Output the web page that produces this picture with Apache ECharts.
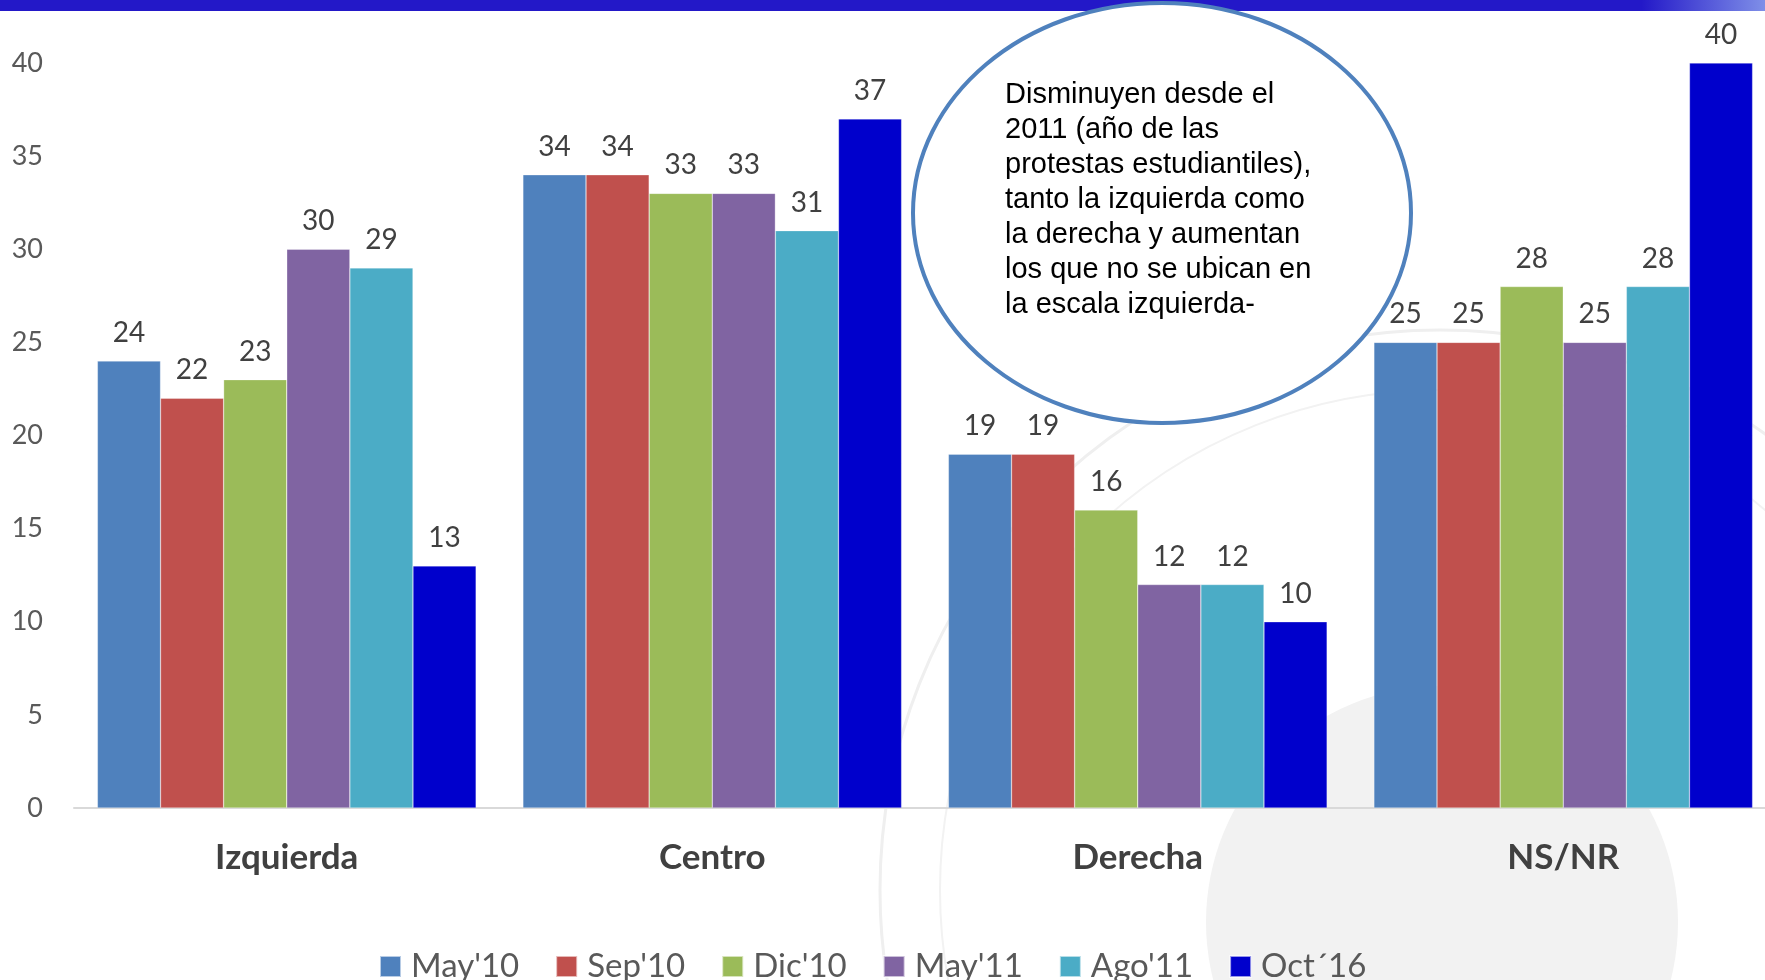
<!DOCTYPE html>
<html>
<head>
<meta charset="utf-8">
<script src="https://cdn.jsdelivr.net/npm/echarts@6/dist/echarts.min.js"></script>
<style>
  html, body { margin: 0; padding: 0; background: #fff; }
  #chart { width: 1765px; height: 980px; }
</style>
</head>
<body>
<div id="chart"></div>
<script>
// categorías y series
const categories = ["Izquierda", "Centro", "Derecha", "NS/NR"];
const seriesNames = ["May'10", "Sep'10", "Dic'10", "May'11", "Ago'11", "Oct´16"];
const may10 = [24, 34, 19, 25];
const sep10 = [22, 34, 19, 25];
const dic10 = [23, 33, 16, 28];
const may11 = [30, 33, 12, 25];
const ago11 = [29, 31, 12, 28];
const oct16 = [13, 37, 10, 40];
const colors = ["#4f81bd", "#c0504d", "#9bbb59", "#8064a2", "#4bacc6", "#0000cc"];
const noteLines = [
  "Disminuyen desde el",
  "2011 (año de las",
  "protestas estudiantiles),",
  "tanto la izquierda como",
  "la derecha y aumentan",
  "los que no se ubican en",
  "la escala izquierda-"
];

const values = [may10, sep10, dic10, may11, ago11, oct16];
const chart = echarts.init(document.getElementById("chart"));

const series = seriesNames.map((name, i) => ({
  name: name,
  type: "bar",
  data: values[i],
  barGap: "0%",
  barCategoryGap: "11%",
  itemStyle: { color: colors[i], borderColor: "rgba(255,255,255,0.6)", borderWidth: 0.5 },
  label: {
    show: true,
    position: "top",
    distance: 14,
    fontFamily: "Lato",
    fontSize: 28,
    color: "#404040"
  }
}));

const option = {
  backgroundColor: "#fff",
  animation: false,
  color: colors,
  // el área del gráfico sobresale un poco por la derecha
  grid: { left: 74, width: 1702, top: 63, bottom: 172, outerBoundsMode: "none", containLabel: false },
  legend: {
    data: seriesNames,
    left: 379,
    top: 950,
    padding: 0,
    itemWidth: 21,
    itemHeight: 21,
    itemGap: 36,
    icon: "rect",
    textStyle: { fontFamily: "Lato", fontSize: 33, color: "#595959", padding: [0, 0, 0, 5] }
  },
  xAxis: {
    type: "category",
    data: categories,
    axisTick: { show: false },
    axisLine: { lineStyle: { color: "#d9d9d9", width: 2 } },
    axisLabel: {
      margin: 32,
      fontFamily: "Lato",
      fontSize: 35,
      fontWeight: "bold",
      color: "#404040"
    }
  },
  yAxis: {
    type: "value",
    min: 0,
    max: 40,
    interval: 5,
    splitLine: { show: false },
    axisLine: { show: false },
    axisTick: { show: false },
    axisLabel: { margin: 31, fontFamily: "Lato", fontSize: 27, color: "#595959" }
  },
  series: series,
  graphic: [
    // marca de agua tenue
    {
      type: "circle",
      shape: { cx: 1442, cy: 922, r: 236 },
      style: { fill: "#f2f2f2" },
      z: 0
    },
    {
      type: "circle",
      shape: { cx: 1440, cy: 890, r: 560 },
      style: { fill: "none", stroke: "#efefef", lineWidth: 3 },
      z: 0
    },
    {
      type: "circle",
      shape: { cx: 1440, cy: 890, r: 500 },
      style: { fill: "none", stroke: "#f2f2f2", lineWidth: 2 },
      z: 0
    },
    {
      type: "rect",
      left: 0,
      top: 0,
      shape: { width: 1765, height: 11 },
      style: {
        fill: new echarts.graphic.LinearGradient(0, 0, 1, 0, [
          { offset: 0, color: "#2318c8" },
          { offset: 0.93, color: "#2318c8" },
          { offset: 1, color: "#7f8fe8" }
        ])
      },
      z: 100
    },
    {
      type: "ellipse",
      shape: { cx: 1162, cy: 213, rx: 249, ry: 210 },
      style: { fill: "#fff", stroke: "#4f81bd", lineWidth: 4 },
      z: 101
    },
    {
      type: "text",
      left: 1005,
      top: 77,
      style: {
        text: noteLines.join("\n"),
        fontFamily: "Liberation Sans",
        fontSize: 29,
        lineHeight: 35,
        fill: "#000"
      },
      z: 102
    }
  ]
};

chart.setOption(option);
</script>
</body>
</html>
